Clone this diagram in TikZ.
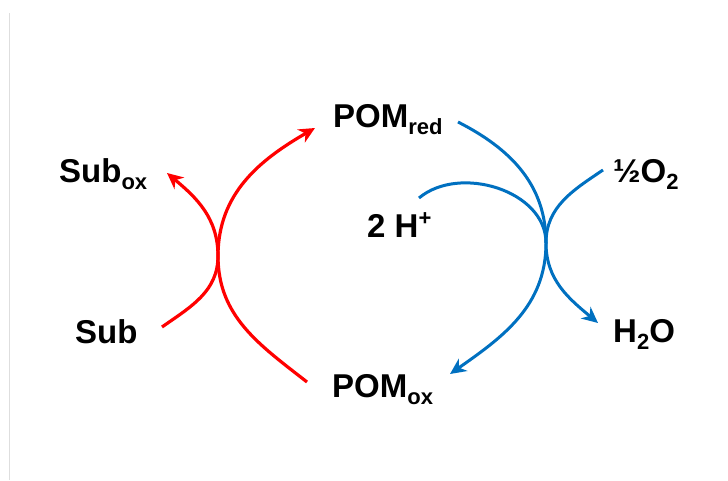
\documentclass[tikz,border=0pt]{standalone}
\usepackage{fontspec}
\setmainfont{Liberation Sans}
\usetikzlibrary{arrows.meta}
\definecolor{pomblue}{RGB}{0,112,192}
\definecolor{edgegray}{RGB}{222,222,222}
% lowered / raised small text for chemical indices and charges
\newcommand{\lowidx}[1]{\raisebox{-7pt}{\fontsize{22}{22}\selectfont #1}}
\newcommand{\highidx}[1]{\raisebox{12pt}{\fontsize{22}{22}\selectfont #1}}
\begin{document}
\begin{tikzpicture}[x=1pt,y=1pt,
  lbl/.style={inner sep=0pt, anchor=base west, font=\fontsize{33}{33}\selectfont\bfseries},
  redarc/.style={red, line width=3.2pt},
  bluearc/.style={pomblue, line width=3pt},
  arrowed/.style={-{Stealth[length=16pt,width=15pt,inset=5pt]}}]
  \useasboundingbox (0,0) rectangle (728,480);
  \draw[edgegray, line width=1pt] (9.5,0) -- (9.5,467);

  % species
  \node[lbl] (subox)  at (59,298)  {Sub\lowidx{ox}};
  \node[lbl] (sub)    at (75,137)  {Sub};
  \node[lbl] (pomred) at (333,352) {POM\lowidx{red}};
  \node[lbl] (pomox)  at (332,83)  {POM\lowidx{ox}};
  \node[lbl] (hplus)  at (367,243) {2 H\highidx{+}};
  \node[lbl] (oxy)    at (613,297) {½O\lowidx{2}};
  \node[lbl] (water)  at (613,138) {H\lowidx{2}O};

  % arc ends and touching points
  \coordinate (redx)  at (218,224);
  \coordinate (bluex) at (546,237);
  \coordinate (a0) at (162,153);
  \coordinate (a1) at (167,307);
  \coordinate (b0) at (307,98);
  \coordinate (b1) at (315,352);
  \coordinate (c0) at (458,358);
  \coordinate (c1) at (450,106);
  \coordinate (d0) at (419,282);
  \coordinate (d1) at (598,157);
  \coordinate (e0) at (603,310);

  % substrate oxidation (red)
  \draw[redarc,arrowed] (a0) to[out=35,in=-90] (redx) to[out=90,in=-40] (a1);
  \draw[redarc,arrowed] (b0) to[out=142,in=-90] (redx) to[out=90,in=210] (b1);

  % catalyst reoxidation (blue)
  \draw[bluearc,arrowed] (c0) to[out=-27,in=90] (bluex) to[out=-90,in=35] (c1);
  \draw[bluearc,arrowed] (d0) to[out=40,in=90] (bluex) to[out=-90,in=140] (d1);
  \draw[bluearc] (e0) to[out=214,in=90] (bluex);
\end{tikzpicture}
\end{document}
